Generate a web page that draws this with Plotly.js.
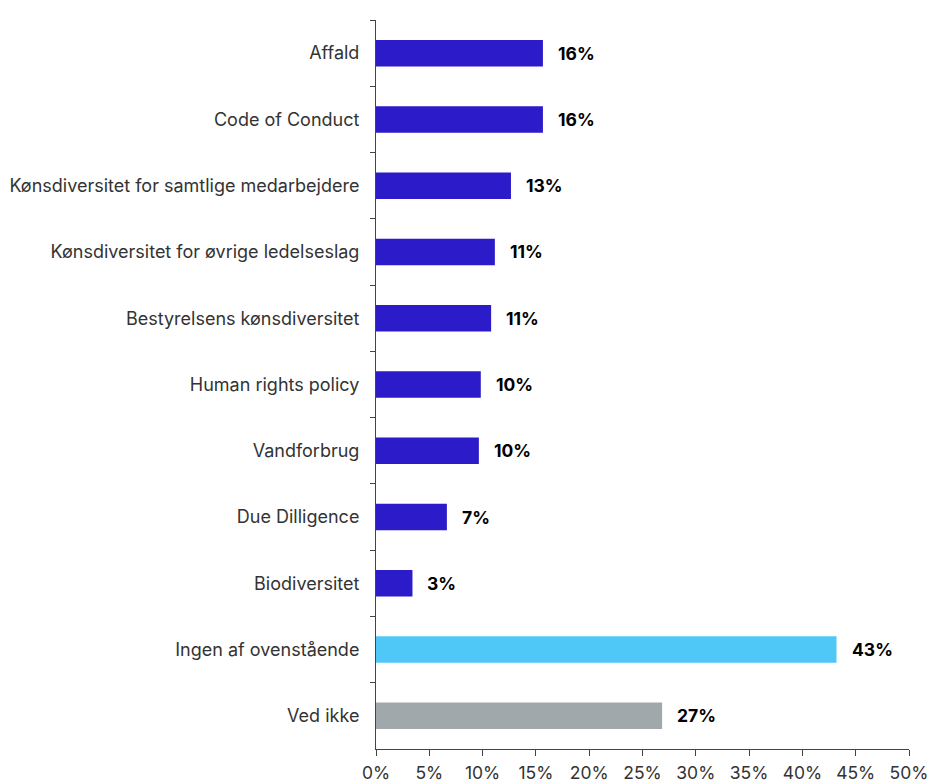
<!DOCTYPE html>
<html><head><meta charset="utf-8">
<script src="https://cdn.plot.ly/plotly-3.0.1.min.js"></script>
<style>html,body{margin:0;padding:0;background:#fff}</style>
</head><body>
<div id="chart" style="width:929px;height:783px"></div>
<script>
const categories = ["Affald","Code of Conduct","Kønsdiversitet for samtlige medarbejdere","Kønsdiversitet for øvrige ledelseslag","Bestyrelsens kønsdiversitet","Human rights policy","Vandforbrug","Due Dilligence","Biodiversitet","Ingen af ovenstående","Ved ikke"];
const values = [15.66,15.66,12.66,11.15,10.8,9.83,9.65,6.65,3.42,43.2,26.84];
const labels = ["16%","16%","13%","11%","11%","10%","10%","7%","3%","43%","27%"];
const colors = ["#2b1bc9","#2b1bc9","#2b1bc9","#2b1bc9","#2b1bc9","#2b1bc9","#2b1bc9","#2b1bc9","#2b1bc9","#4fc8f8","#a0a8ab"];
const xTicks = [0,5,10,15,20,25,30,35,40,45,50];

const trace = {
  type:"bar", orientation:"h", x:values, y:categories,
  marker:{color:colors}, hoverinfo:"none"
};
const annotations = categories.map((c,i)=>({
  x:values[i], y:c, xref:"x", yref:"y", text:"<b>"+labels[i]+"</b>",
  showarrow:false, xanchor:"left", xshift:13,
  font:{family:"Inter, Arial, sans-serif", size:17.5, color:"#000"}
}));
const layout = {
  width:929, height:783,
  margin:{l:376, r:20, t:20, b:34},
  paper_bgcolor:"#fff", plot_bgcolor:"#fff",
  showlegend:false, bargap:0.6,
  font:{family:"Inter, Arial, sans-serif", size:17, color:"#333"},
  xaxis:{range:[0,50], tickvals:xTicks, ticktext:xTicks.map(v=>v+"%"),
    showgrid:false, zeroline:false, showline:true, linecolor:"#444", linewidth:1,
    ticks:"outside", ticklen:6, tickcolor:"#444", fixedrange:true,
    ticklabelstandoff:2, tickfont:{size:17.5, color:"#333"}},
  yaxis:{autorange:"reversed", type:"category", showgrid:false, zeroline:false,
    showline:true, linecolor:"#444", linewidth:1, ticks:"outside", ticklen:5,
    tickcolor:"#444", tickson:"boundaries", ticklabelstandoff:12,
    tickfont:{size:18, color:"#333"}},
  annotations:annotations
};
Plotly.newPlot("chart",[trace],layout,{displayModeBar:false,staticPlot:true});
</script>
</body></html>
